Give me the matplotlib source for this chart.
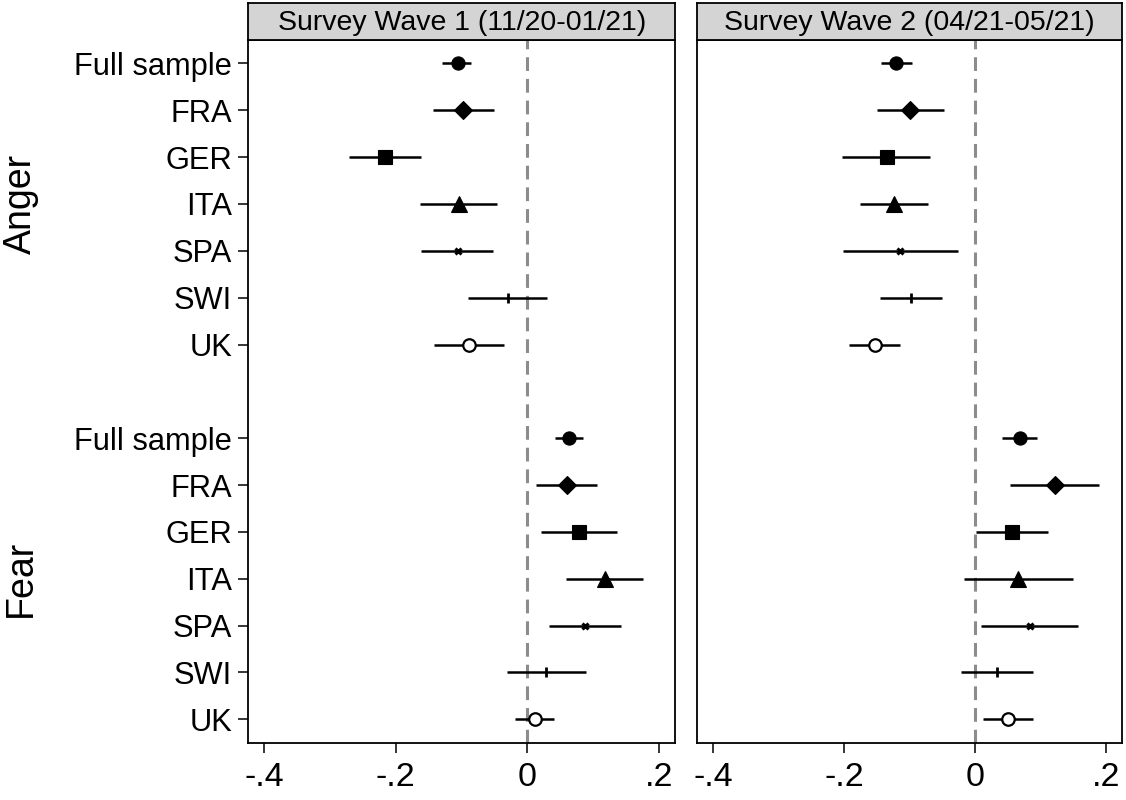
import matplotlib
matplotlib.use("Agg")
import matplotlib.pyplot as plt
import matplotlib.transforms as mtransforms
import numpy as np

plt.rcParams['font.family'] = ['Liberation Sans', 'DejaVu Sans']

# ---------------- data ----------------
countries = ["Full sample", "FRA", "GER", "ITA", "SPA", "SWI", "UK"]
groups = ["Anger", "Fear"]
wave_titles = ["Survey Wave 1 (11/20-01/21)", "Survey Wave 2 (04/21-05/21)"]

w1_anger_est = [-0.106, -0.097, -0.217, -0.104, -0.106, -0.030, -0.089]
w1_anger_lo = [-0.129, -0.144, -0.271, -0.163, -0.161, -0.090, -0.142]
w1_anger_hi = [-0.085, -0.051, -0.162, -0.046, -0.052, 0.030, -0.036]
w1_fear_est = [0.063, 0.060, 0.078, 0.118, 0.088, 0.028, 0.011]
w1_fear_lo = [0.042, 0.014, 0.021, 0.059, 0.033, -0.031, -0.019]
w1_fear_hi = [0.085, 0.106, 0.136, 0.176, 0.142, 0.089, 0.041]

w2_anger_est = [-0.120, -0.099, -0.135, -0.123, -0.114, -0.098, -0.153]
w2_anger_lo = [-0.144, -0.149, -0.203, -0.176, -0.202, -0.145, -0.192]
w2_anger_hi = [-0.096, -0.047, -0.068, -0.071, -0.026, -0.050, -0.114]
w2_fear_est = [0.068, 0.122, 0.057, 0.066, 0.084, 0.033, 0.050]
w2_fear_lo = [0.042, 0.054, 0.002, -0.016, 0.009, -0.022, 0.012]
w2_fear_hi = [0.095, 0.189, 0.112, 0.149, 0.158, 0.088, 0.088]

xticks = [-0.4, -0.2, 0, 0.2]
xticklabels = ["-.4", "-.2", "0", ".2"]

waves = [
    {"Anger": (w1_anger_est, w1_anger_lo, w1_anger_hi),
     "Fear": (w1_fear_est, w1_fear_lo, w1_fear_hi)},
    {"Anger": (w2_anger_est, w2_anger_lo, w2_anger_hi),
     "Fear": (w2_fear_est, w2_fear_lo, w2_fear_hi)},
]

# marker styles per country
mstyle = {
    "Full sample": dict(marker='o', ms=9.5, mfc='black', mec='black', mew=0.8),
    "FRA": dict(marker='D', ms=9.5, mfc='black', mec='black', mew=0.8),
    "GER": dict(marker='s', ms=10.0, mfc='black', mec='black', mew=0.8),
    "ITA": dict(marker='^', ms=11.0, mfc='black', mec='black', mew=0.8),
    "SPA": dict(marker='x', ms=4.0, mfc='black', mec='black', mew=2.2),
    "SWI": dict(marker='|', ms=7.0, mfc='black', mec='black', mew=2.0),
    "UK": dict(marker='o', ms=9.0, mfc='white', mec='black', mew=1.6),
}

# ---------------- layout ----------------
W, H = 1126, 800
fig = plt.figure(figsize=(W / 100, H / 100), dpi=100)

panel_x = [(248.3, 675.0), (697.3, 1122.0)]
top_px, bot_px = 40.0, 742.7
strip_top_px = 3.3

n = len(countries)
pos = {"Anger": np.arange(1, n + 1), "Fear": np.arange(n + 2, 2 * n + 2)}

axes = []
for i, (x0, x1) in enumerate(panel_x):
    ax = fig.add_axes([x0 / W, 1 - bot_px / H, (x1 - x0) / W, (bot_px - top_px) / H])
    axes.append(ax)
    ax.axvline(0, color='#8c8c8c', lw=2.2, linestyle=(0, (4.5, 2.6)), zorder=1)
    for g in groups:
        est, lo, hi = waves[i][g]
        ys = pos[g]
        ax.hlines(ys, lo, hi, color='black', lw=1.8, zorder=2)
        for c, y, e in zip(countries, ys, est):
            ax.plot([e], [y], linestyle='none', zorder=3, **mstyle[c])
    ax.set_xlim(-0.424, 0.2245)
    ax.set_ylim(2 * n + 1.5, 0.5)
    ax.set_xticks(xticks)
    ax.set_xticklabels(xticklabels, fontsize=24.5)
    ax.tick_params(axis='x', length=7.5, width=1.1, pad=6.5)
    for s in ax.spines.values():
        s.set_color('black')
        s.set_linewidth(1.3)
    if i == 0:
        ax.set_yticks(np.concatenate([pos["Anger"], pos["Fear"]]))
        ax.set_yticklabels(countries + countries, fontsize=22.2)
        ax.tick_params(axis='y', length=7.5, width=1.1, pad=4)
    else:
        ax.set_yticks([])

    # header strip
    sax = fig.add_axes([x0 / W, 1 - top_px / H, (x1 - x0) / W, (top_px - strip_top_px) / H])
    sax.set_facecolor('#d4d4d4')
    sax.set_xticks([])
    sax.set_yticks([])
    for s in sax.spines.values():
        s.set_color('black')
        s.set_linewidth(1.3)
    sax.text(0.5, 0.47, wave_titles[i], ha='center', va='center', fontsize=20.5,
             transform=sax.transAxes)

# group labels on the far left
trans = mtransforms.blended_transform_factory(fig.transFigure, axes[0].transData)
for g in groups:
    axes[0].text(0.0185, pos[g].mean(), g, rotation=90, ha='center', va='center',
                 fontsize=27, transform=trans)

fig.savefig("out.png", dpi=100)
